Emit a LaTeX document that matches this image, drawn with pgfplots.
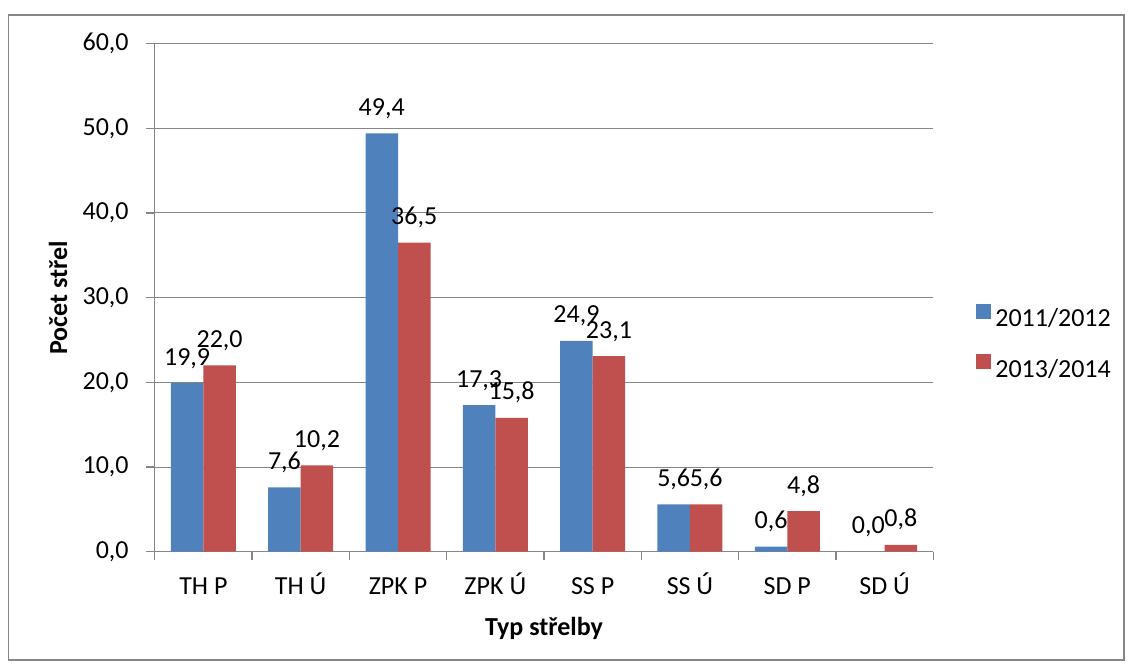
\documentclass[border=0pt]{standalone}
\usepackage{fontspec}
\setmainfont{Carlito}
\usepackage{pgfplots}
\pgfplotsset{compat=1.18}
\definecolor{cblue}{HTML}{4F81BD}
\definecolor{cred}{HTML}{C0504D}
\definecolor{cgrid}{HTML}{868686}
\pgfplotsset{/pgf/number format/.cd, fixed, fixed zerofill, precision=1, use comma, assume math mode=true}
\begin{document}
\begin{tikzpicture}
\useasboundingbox (0pt,0pt) rectangle (566pt,333pt);
\draw[cgrid, line width=0.6pt] (4.25pt,3pt) rectangle (562pt,325.5pt);
\begin{axis}[
  at={(77.35pt,57.15pt)}, anchor=south west,
  scale only axis, width=389.3pt, height=254.05pt,
  font=\fontsize{13}{15.6}\selectfont,
  ymin=0, ymax=60, ytick={0,10,...,60},
  xmin=-0.5, xmax=7.5,
  ybar=0pt, bar width=16.25pt,
  axis x line*=bottom, axis y line*=left,
  axis line style={cgrid, line width=0.75pt, -},
  ymajorgrids, grid style={cgrid, line width=0.5pt},
  tick align=outside, major tick length=4.35pt,
  ytick style={cgrid, line width=0.75pt},
  xtick={0,...,7},
  xticklabels={TH P, TH Ú, ZPK P, ZPK Ú, SS P, SS Ú, SD P, SD Ú},
  xtick style={draw=none},
  extra x ticks={-0.5,0.5,...,7.5},
  extra x tick labels={},
  extra x tick style={major x tick style={draw=cgrid, line width=0.75pt}, xmajorgrids=false},
  xticklabel style={anchor=base, yshift=-17.15pt},
  yticklabel style={anchor=east, inner sep=0pt, xshift=-8.5pt},
  ylabel={\bfseries Počet střel},
  ylabel style={at={(axis description cs:-0.1242,0.5)}, anchor=center, rotate=0},
  xlabel={\bfseries Typ střelby},
  xlabel style={at={(axis description cs:0.5,0)}, anchor=base, yshift=-41.65pt},
  nodes near coords,
  every node near coord/.append style={anchor=base, inner sep=0pt, yshift=9pt, text=black},
  legend style={at={(axis description cs:1.0548,0.4088)}, anchor=west, draw=none, fill=none, inner sep=0pt, row sep=10pt, font=\fontsize{13}{15.6}\selectfont},
  legend cell align=left,
]
\addplot[fill=cblue, draw=none, legend image code/.code={\fill[cblue] (0pt,0.45pt) rectangle (7.5pt,7.95pt);}] coordinates {(0,19.9) (1,7.6) (2,49.4) (3,17.3) (4,24.9) (5,5.6) (6,0.6) (7,0.0)};
\addlegendentry{2011/2012}
\addplot[fill=cred, draw=none, legend image code/.code={\fill[cred] (0pt,0.45pt) rectangle (7.5pt,7.95pt);}] coordinates {(0,22.0) (1,10.2) (2,36.5) (3,15.8) (4,23.1) (5,5.6) (6,4.8) (7,0.8)};
\addlegendentry{2013/2014}
\end{axis}
\end{tikzpicture}
\end{document}
